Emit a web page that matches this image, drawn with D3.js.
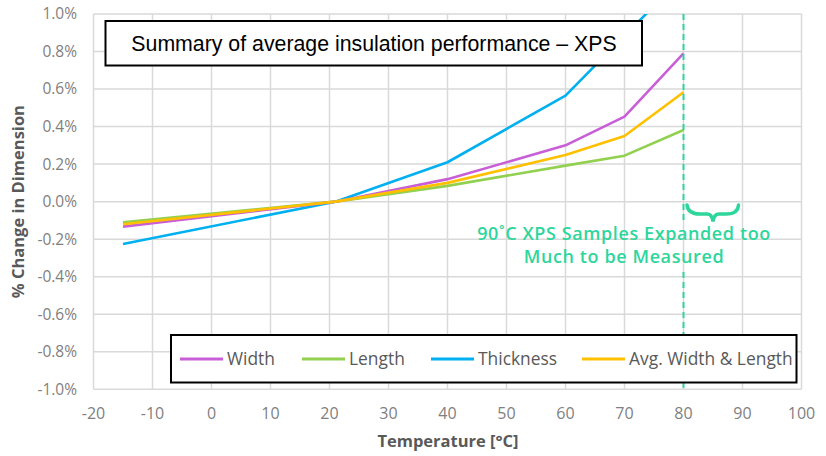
<!DOCTYPE html>
<html><head><meta charset="utf-8">
<script src="https://cdn.jsdelivr.net/npm/d3@7/dist/d3.min.js"></script>
<style>body{margin:0;background:#fff}svg{display:block}</style>
</head><body>
<script>
const temps = [-15, 21, 40, 60, 70, 80];
const widthVals = [-0.133, 0, 0.12, 0.30, 0.453, 0.79];
const lengthVals = [-0.11, 0, 0.084, 0.192, 0.245, 0.382];
const thicknessVals = [-0.226, 0, 0.21, 0.565, 0.885, 1.2];
const avgVals = [-0.12, 0, 0.10, 0.249, 0.35, 0.583];
const seriesNames = ["Width", "Length", "Thickness", "Avg. Width & Length"];
const seriesColors = ["#c85fd6", "#92d050", "#00b0f0", "#ffc000"];
const xTicks = [-20, -10, 0, 10, 20, 30, 40, 50, 60, 70, 80, 90, 100];
const yTicks = [-1.0, -0.8, -0.6, -0.4, -0.2, 0, 0.2, 0.4, 0.6, 0.8, 1.0];
const titleText = "Summary of average insulation performance \u2013 XPS";
const noteLines = ["90\u02daC XPS Samples Expanded too", "Much to be Measured"];
const markerTemp = 80;

const W = 826, H = 456;
const svg = d3.select("body").append("svg").attr("width", W).attr("height", H);
const x = d3.scaleLinear().domain([-20, 100]).range([93.5, 801.5]);
const y = d3.scaleLinear().domain([-1, 1]).range([389.3, 14]);

// grid
const grid = svg.append("g");
grid.selectAll(".vx").data(xTicks).join("line")
  .attr("x1", d => x(d)).attr("x2", d => x(d)).attr("y1", y(1)).attr("y2", y(-1))
  .attr("stroke", "#d9d9d9").attr("stroke-width", 1.5);
grid.selectAll(".hy").data(yTicks).join("line")
  .attr("x1", x(-20)).attr("x2", x(100)).attr("y1", d => y(d)).attr("y2", d => y(d))
  .attr("stroke", "#d9d9d9").attr("stroke-width", 1.5);

// axes labels
const font = "'Open Sans', 'DejaVu Sans', sans-serif";
svg.append("g").selectAll("text").data(yTicks).join("text")
  .attr("x", 77).attr("y", d => y(d)).attr("dy", "0.35em").attr("text-anchor", "end")
  .attr("font-family", font).attr("font-size", 15.5).attr("fill", "#7f7f7f")
  .text(d => d.toFixed(1) + "%");
svg.append("g").selectAll("text").data(xTicks).join("text")
  .attr("x", d => x(d)).attr("y", 413).attr("dy", "0.35em").attr("text-anchor", "middle")
  .attr("font-family", font).attr("font-size", 16).attr("fill", "#7f7f7f")
  .text(d => d);
svg.append("text").attr("x", 448).attr("y", 441).attr("dy", "0.35em").attr("text-anchor", "middle")
  .attr("font-family", font).attr("font-size", 16.5).attr("font-weight", "bold").attr("fill", "#595959")
  .text("Temperature [\u00b0C]");
svg.append("text").attr("transform", `translate(18,${y(0)}) rotate(-90)`).attr("dy", "0.35em")
  .attr("text-anchor", "middle")
  .attr("font-family", font).attr("font-size", 16.5).attr("font-weight", "bold").attr("fill", "#595959")
  .text("% Change in Dimension");

// lines
svg.append("clipPath").attr("id", "plot").append("rect")
  .attr("x", x(-20)).attr("y", y(1)).attr("width", x(100) - x(-20)).attr("height", y(-1) - y(1));
const allVals = [widthVals, lengthVals, thicknessVals, avgVals];
const line = d3.line().x((d, i) => x(temps[i])).y(d => y(d));
const drawOrder = [2, 1, 0, 3];
const lg = svg.append("g").attr("clip-path", "url(#plot)");
drawOrder.forEach(k => {
  lg.append("path").datum(allVals[k]).attr("d", line).attr("fill", "none")
    .attr("stroke", seriesColors[k]).attr("stroke-width", 2.6).attr("stroke-linejoin", "round");
});

// title box
svg.append("rect").attr("x", 105.5).attr("y", 21).attr("width", 536.5).attr("height", 44.5)
  .attr("fill", "#fff").attr("stroke", "#000").attr("stroke-width", 2);
svg.append("text").attr("x", 374).attr("y", 43.5).attr("dy", "0.35em").attr("text-anchor", "middle")
  .attr("font-family", "'Liberation Sans', Arial, sans-serif").attr("font-size", 21.3).attr("fill", "#000")
  .text(titleText);

// dashed vertical line
const teal = "#2ed69c";
svg.append("line").attr("x1", x(markerTemp)).attr("x2", x(markerTemp)).attr("y1", y(1)).attr("y2", 222)
  .attr("stroke", teal).attr("stroke-width", 2).attr("stroke-dasharray", "6,4");
svg.append("line").attr("x1", x(markerTemp)).attr("x2", x(markerTemp)).attr("y1", 272).attr("y2", y(-1))
  .attr("stroke", teal).attr("stroke-width", 2).attr("stroke-dasharray", "6,4");

// brace
svg.append("path").attr("d", "M687,205 Q688,214 700,214 L707,214 Q712,214 713,221.5 Q714,214 719,214 L726,214 Q738,214 738.5,205")
  .attr("fill", "none").attr("stroke", teal).attr("stroke-width", 3.5).attr("stroke-linecap", "round");

// note
svg.append("g").selectAll("text").data(noteLines).join("text")
  .attr("x", 624).attr("y", (d, i) => 239.5 + i * 23.4).attr("text-anchor", "middle")
  .attr("font-family", font).attr("font-size", 18).attr("font-weight", 600).attr("fill", teal)
  .attr("letter-spacing", 0.6)
  .text(d => d);

// legend
svg.append("rect").attr("x", 171).attr("y", 335).attr("width", 625.5).attr("height", 47.5)
  .attr("fill", "#fff").attr("stroke", "#000").attr("stroke-width", 2);
const legX = [180, 302, 431, 582];
seriesNames.forEach((n, k) => {
  svg.append("line").attr("x1", legX[k]).attr("x2", legX[k] + 43).attr("y1", 359).attr("y2", 359)
    .attr("stroke", seriesColors[k]).attr("stroke-width", 3);
  svg.append("text").attr("x", legX[k] + 47).attr("y", 359).attr("dy", "0.35em")
    .attr("font-family", font).attr("font-size", 17.4).attr("fill", "#595959").text(n);
});
</script>
</body></html>
